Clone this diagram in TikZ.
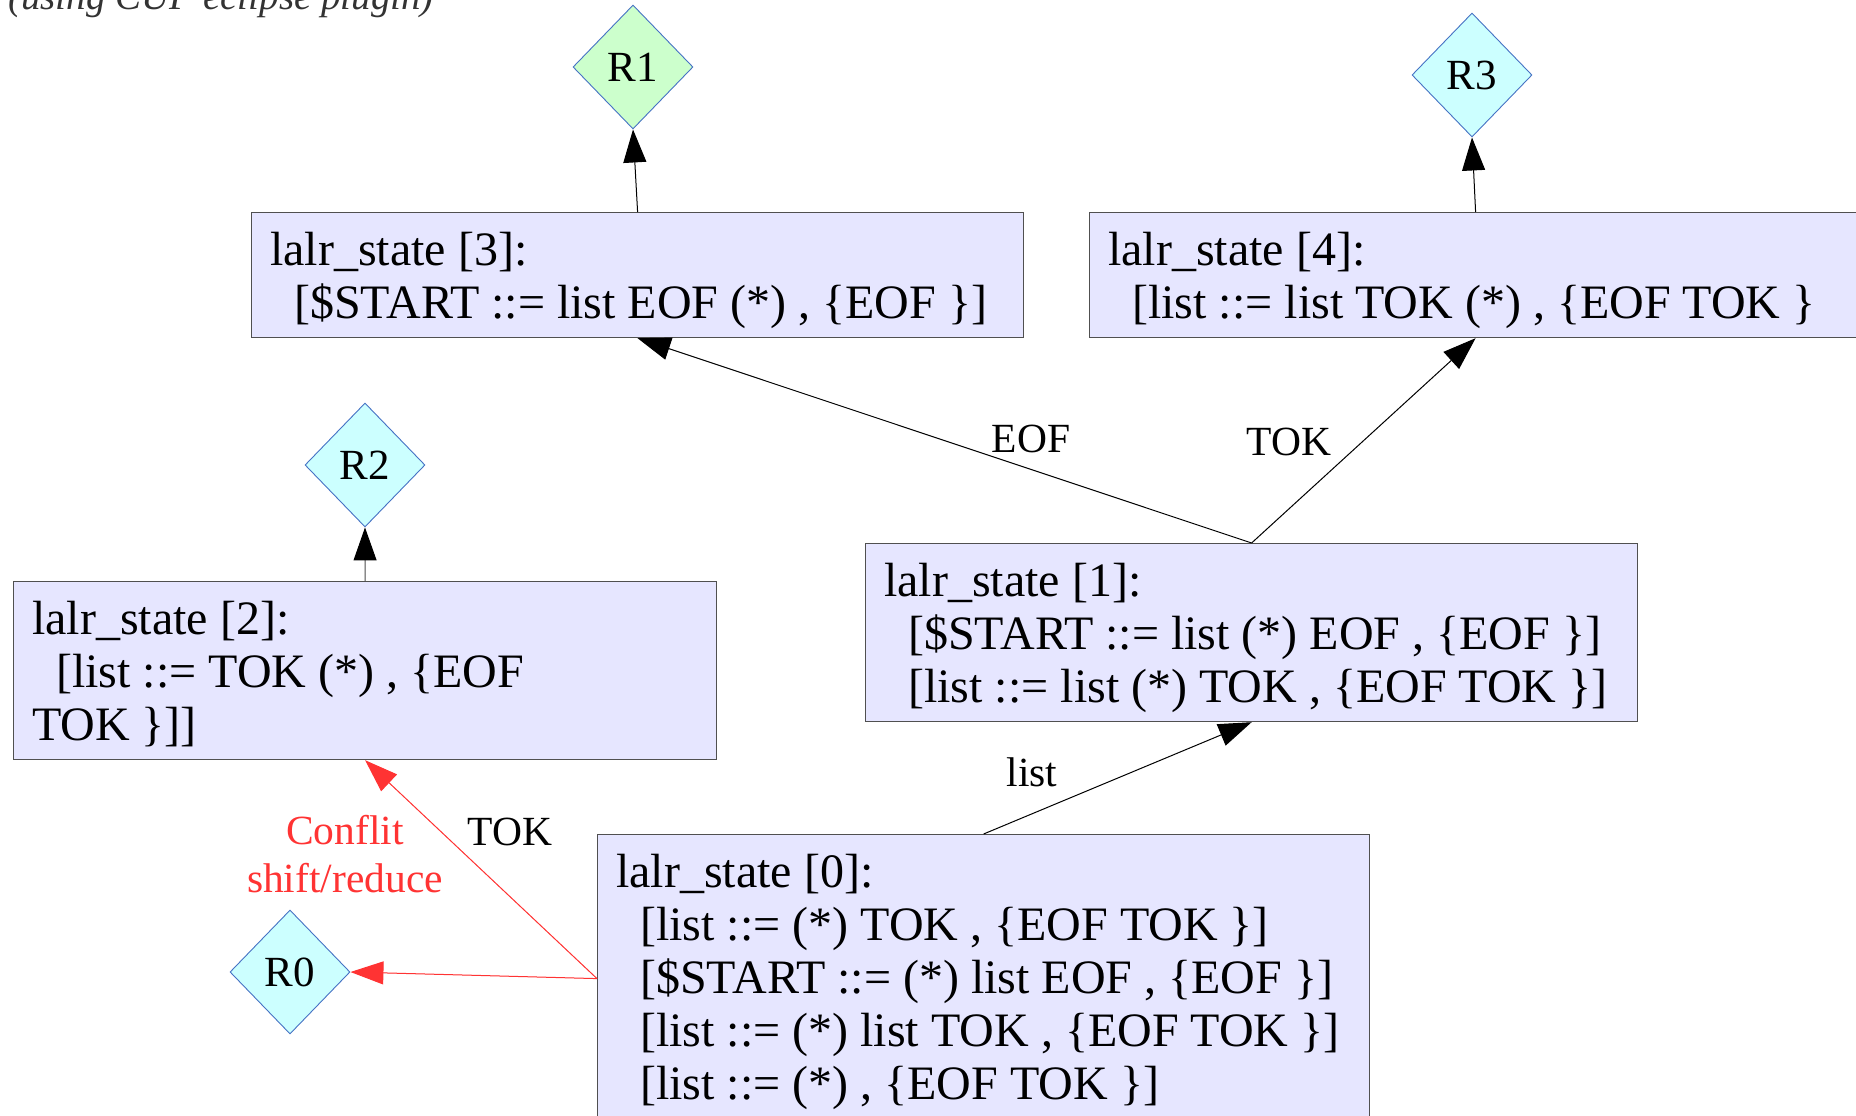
\documentclass[tikz,border=0pt]{standalone}
\usepackage{fontspec}
\setmainfont{Liberation Serif}
\usetikzlibrary{shapes.geometric,arrows.meta}
\definecolor{boxfill}{RGB}{230,230,255}
\definecolor{boxline}{RGB}{80,80,80}
\definecolor{dline}{RGB}{70,114,196}
\definecolor{dcyan}{RGB}{204,255,255}
\definecolor{dgreen}{RGB}{204,255,204}
\definecolor{conf}{RGB}{255,51,51}
\begin{document}
\begin{tikzpicture}[x=1pt,y=-1pt,
  statebox/.style={draw=boxline, fill=boxfill, line width=1.2pt, minimum width=772pt, anchor=north west, inner sep=0pt},
  stext/.style={anchor=base west, inner sep=0pt, font=\fontsize{48}{53}\selectfont},
  rdiam/.style={shape=diamond, draw=dline, line width=0.9pt, fill=dcyan, minimum width=120pt, minimum height=124pt, inner sep=0pt, font=\fontsize{43}{48}\selectfont},
  elabel/.style={anchor=base, inner sep=0pt, font=\fontsize{41.5}{48}\selectfont},
  edge/.style={line width=1pt, -{Triangle[length=33pt,width=23pt]}},
  redge/.style={edge, draw=conf, fill=conf}
]
\useasboundingbox (0,0) rectangle (1856,1116);
\clip (0,0) rectangle (1856,1116);

\node[anchor=base west, inner sep=0pt, font=\fontsize{39}{45}\selectfont\itshape, text=black!80] (cap) at (8,10) {(using CUP eclipse plugin)};

% states
\node[statebox, minimum height=125pt] (s3) at (251,212) {};
\node[statebox, minimum height=125pt] (s4) at (1089,212) {};
\node[statebox, minimum height=178pt] (s1) at (865,543) {};
\node[statebox, minimum height=178pt, minimum width=703pt] (s2) at (13,581) {};
\node[statebox, minimum height=288pt] (s0) at (597,834) {};

\node[stext] (t3) at ([shift={(19,53)}]s3.north west) {\begin{tabular}[t]{@{}l@{}}lalr\_state [3]:\\\hspace*{0.5em}[\$START ::= list EOF (*) , \{EOF \}]\end{tabular}};
\node[stext] (t4) at ([shift={(19,53)}]s4.north west) {\begin{tabular}[t]{@{}l@{}}lalr\_state [4]:\\\hspace*{0.5em}[list ::= list TOK (*) , \{EOF TOK \}\end{tabular}};
\node[stext] (t1) at ([shift={(19,53)}]s1.north west) {\begin{tabular}[t]{@{}l@{}}lalr\_state [1]:\\\hspace*{0.5em}[\$START ::= list (*) EOF , \{EOF \}]\\\hspace*{0.5em}[list ::= list (*) TOK , \{EOF TOK \}]\end{tabular}};
\node[stext] (t2) at ([shift={(19,53)}]s2.north west) {\begin{tabular}[t]{@{}l@{}}lalr\_state [2]:\\\hspace*{0.5em}[list ::= TOK (*) , \{EOF\\\relax TOK \}]]\end{tabular}};
\node[stext] (t0) at ([shift={(19,53)}]s0.north west) {\begin{tabular}[t]{@{}l@{}}lalr\_state [0]:\\\hspace*{0.5em}[list ::= (*) TOK , \{EOF TOK \}]\\\hspace*{0.5em}[\$START ::= (*) list EOF , \{EOF \}]\\\hspace*{0.5em}[list ::= (*) list TOK , \{EOF TOK \}]\\\hspace*{0.5em}[list ::= (*) , \{EOF TOK \}]\end{tabular}};

% diamonds
\node[rdiam, fill=dgreen] (R1) at (633,67) {R1};
\node[rdiam] (R3) at (1472,75) {R3};
\node[rdiam] (R2) at (365,465) {R2};
\node[rdiam] (R0) at (290,972) {R0};

% edges
\draw[edge] (s3.north) -- (R1.south);
\draw[edge] (s4.north) -- (R3.south);
\draw[line width=1pt, draw=black!70, -{Triangle[length=33pt,width=23pt,color=black]}] (s2.north) -- (R2.south);
\draw[edge] (s1.north) -- (s3.south);
\draw[edge] (s1.north) -- (s4.south);
\draw[edge] (s0.north) -- (s1.south);
\draw[redge] (s0.west) -- (s2.south);
\draw[redge] (s0.west) -- (R0.east);

% labels
\node[elabel] (lEOF) at (1031,452) {EOF};
\node[elabel] (lTOK1) at (1289,455) {TOK};
\node[elabel] (llist) at (1032,786) {list};
\node[elabel] (lTOK2) at (510,845) {TOK};
\node[anchor=base, inner sep=0pt, text=conf, font=\fontsize{41.5}{48}\selectfont] (lconf) at (345,844) {\begin{tabular}[t]{@{}c@{}}Conflit\\shift/reduce\end{tabular}};
\end{tikzpicture}
\end{document}
